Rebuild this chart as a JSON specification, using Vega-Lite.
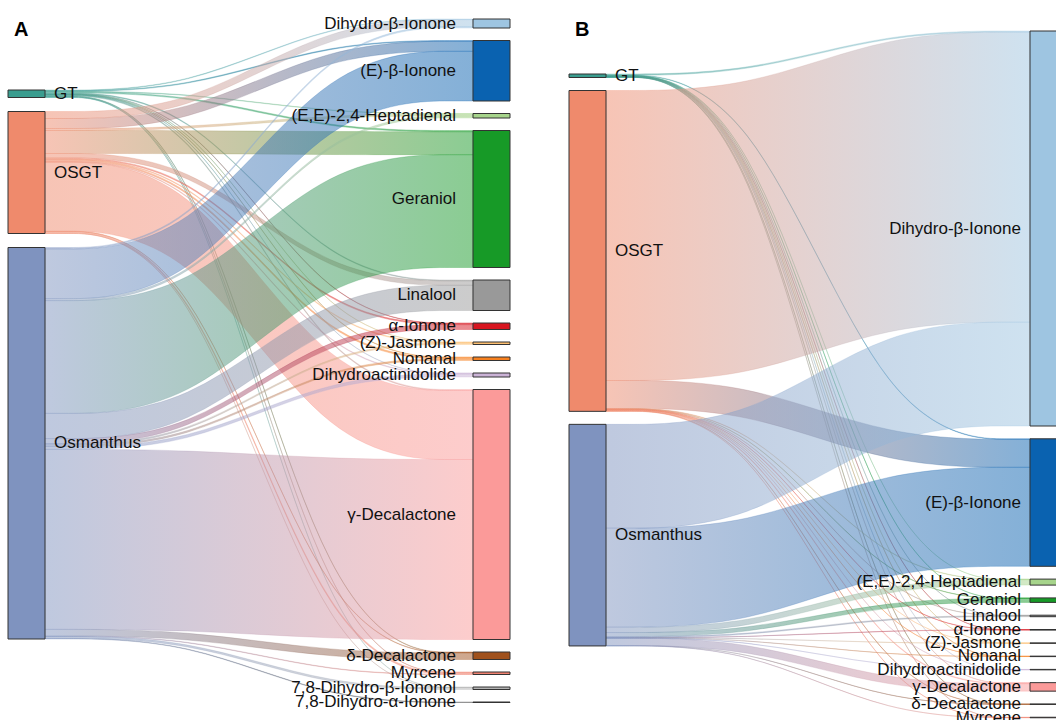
{
  "$schema": "https://vega.github.io/schema/vega-lite/v6.json",
  "padding": 0,
  "spacing": 20,
  "background": "white",
  "config": {"view": {"stroke": null}, "font": "Liberation Sans"},
  "datasets": {
    "rank": [
      {"name": "GT", "r": 1}, {"name": "OSGT", "r": 2}, {"name": "Osmanthus", "r": 3},
      {"name": "Dihydro-β-Ionone", "r": 1}, {"name": "(E)-β-Ionone", "r": 2}, {"name": "(E,E)-2,4-Heptadienal", "r": 3},
      {"name": "Geraniol", "r": 4}, {"name": "Linalool", "r": 5}, {"name": "α-Ionone", "r": 6}, {"name": "(Z)-Jasmone", "r": 7},
      {"name": "Nonanal", "r": 8}, {"name": "Dihydroactinidolide", "r": 9}, {"name": "γ-Decalactone", "r": 10},
      {"name": "δ-Decalactone", "r": 11}, {"name": "Myrcene", "r": 12}, {"name": "7,8-Dihydro-β-Iononol", "r": 13},
      {"name": "7,8-Dihydro-α-Ionone", "r": 14}
    ],
    "linksA": [
      {"s": "GT", "t": "Dihydro-β-Ionone", "v": 0.6}, {"s": "GT", "t": "(E)-β-Ionone", "v": 0.8}, {"s": "GT", "t": "(E,E)-2,4-Heptadienal", "v": 0.5},
      {"s": "GT", "t": "Geraniol", "v": 1.2}, {"s": "GT", "t": "Linalool", "v": 0.8}, {"s": "GT", "t": "α-Ionone", "v": 0.4},
      {"s": "GT", "t": "(Z)-Jasmone", "v": 0.3}, {"s": "GT", "t": "Nonanal", "v": 0.4}, {"s": "GT", "t": "Dihydroactinidolide", "v": 0.3},
      {"s": "GT", "t": "γ-Decalactone", "v": 1.0}, {"s": "GT", "t": "δ-Decalactone", "v": 0.4}, {"s": "GT", "t": "Myrcene", "v": 0.4},
      {"s": "GT", "t": "7,8-Dihydro-β-Iononol", "v": 0.4},
      {"s": "OSGT", "t": "Dihydro-β-Ionone", "v": 7}, {"s": "OSGT", "t": "(E)-β-Ionone", "v": 10}, {"s": "OSGT", "t": "(E,E)-2,4-Heptadienal", "v": 2},
      {"s": "OSGT", "t": "Geraniol", "v": 23}, {"s": "OSGT", "t": "Linalool", "v": 4.5}, {"s": "OSGT", "t": "α-Ionone", "v": 1.2},
      {"s": "OSGT", "t": "(Z)-Jasmone", "v": 0.8}, {"s": "OSGT", "t": "Nonanal", "v": 1.5}, {"s": "OSGT", "t": "Dihydroactinidolide", "v": 0.8},
      {"s": "OSGT", "t": "γ-Decalactone", "v": 69}, {"s": "OSGT", "t": "δ-Decalactone", "v": 0.4}, {"s": "OSGT", "t": "Myrcene", "v": 1.6},
      {"s": "OSGT", "t": "7,8-Dihydro-β-Iononol", "v": 0.2},
      {"s": "Osmanthus", "t": "Dihydro-β-Ionone", "v": 1.4}, {"s": "Osmanthus", "t": "(E)-β-Ionone", "v": 49.7}, {"s": "Osmanthus", "t": "(E,E)-2,4-Heptadienal", "v": 2.0},
      {"s": "Osmanthus", "t": "Geraniol", "v": 112.8}, {"s": "Osmanthus", "t": "Linalool", "v": 25.2}, {"s": "Osmanthus", "t": "α-Ionone", "v": 4.9},
      {"s": "Osmanthus", "t": "(Z)-Jasmone", "v": 1.4}, {"s": "Osmanthus", "t": "Nonanal", "v": 1.6}, {"s": "Osmanthus", "t": "Dihydroactinidolide", "v": 2.9},
      {"s": "Osmanthus", "t": "γ-Decalactone", "v": 180}, {"s": "Osmanthus", "t": "δ-Decalactone", "v": 6.7}, {"s": "Osmanthus", "t": "Myrcene", "v": 0.5},
      {"s": "Osmanthus", "t": "7,8-Dihydro-β-Iononol", "v": 1.9}, {"s": "Osmanthus", "t": "7,8-Dihydro-α-Ionone", "v": 0.5}
    ],
    "linksB": [
      {"s": "GT", "t": "Dihydro-β-Ionone", "v": 1.2}, {"s": "GT", "t": "(E)-β-Ionone", "v": 0.5}, {"s": "GT", "t": "(E,E)-2,4-Heptadienal", "v": 0.2},
      {"s": "GT", "t": "Geraniol", "v": 0.2}, {"s": "GT", "t": "Linalool", "v": 0.2}, {"s": "GT", "t": "α-Ionone", "v": 0.2},
      {"s": "GT", "t": "(Z)-Jasmone", "v": 0.15}, {"s": "GT", "t": "Nonanal", "v": 0.15}, {"s": "GT", "t": "Dihydroactinidolide", "v": 0.15},
      {"s": "GT", "t": "γ-Decalactone", "v": 0.25}, {"s": "GT", "t": "δ-Decalactone", "v": 0.15}, {"s": "GT", "t": "Myrcene", "v": 0.15},
      {"s": "OSGT", "t": "Dihydro-β-Ionone", "v": 290}, {"s": "OSGT", "t": "(E)-β-Ionone", "v": 28}, {"s": "OSGT", "t": "(E,E)-2,4-Heptadienal", "v": 0.4},
      {"s": "OSGT", "t": "Geraniol", "v": 0.3}, {"s": "OSGT", "t": "Linalool", "v": 0.3}, {"s": "OSGT", "t": "α-Ionone", "v": 0.2},
      {"s": "OSGT", "t": "(Z)-Jasmone", "v": 0.15}, {"s": "OSGT", "t": "Nonanal", "v": 0.15}, {"s": "OSGT", "t": "Dihydroactinidolide", "v": 0.15},
      {"s": "OSGT", "t": "γ-Decalactone", "v": 0.8}, {"s": "OSGT", "t": "δ-Decalactone", "v": 0.2}, {"s": "OSGT", "t": "Myrcene", "v": 0.2},
      {"s": "Osmanthus", "t": "Dihydro-β-Ionone", "v": 103.8}, {"s": "Osmanthus", "t": "(E)-β-Ionone", "v": 99}, {"s": "Osmanthus", "t": "(E,E)-2,4-Heptadienal", "v": 5.4},
      {"s": "Osmanthus", "t": "Geraniol", "v": 4.0}, {"s": "Osmanthus", "t": "Linalool", "v": 1.0}, {"s": "Osmanthus", "t": "α-Ionone", "v": 0.2},
      {"s": "Osmanthus", "t": "(Z)-Jasmone", "v": 0.15}, {"s": "Osmanthus", "t": "Nonanal", "v": 0.15}, {"s": "Osmanthus", "t": "Dihydroactinidolide", "v": 0.15},
      {"s": "Osmanthus", "t": "γ-Decalactone", "v": 7.45}, {"s": "Osmanthus", "t": "δ-Decalactone", "v": 0.15}, {"s": "Osmanthus", "t": "Myrcene", "v": 0.15}
    ]
  },
  "hconcat": [
    {
      "width": 520,
      "height": 720,
      "title": {"text": "A", "anchor": "start", "frame": "group", "orient": "top", "offset": -56, "baseline": "alphabetic", "dx": 14, "fontSize": 20, "fontWeight": "bold", "font": "Liberation Sans", "color": "#000000"},
      "data": {"name": "linksA"},
      "transform": [
        {"lookup": "s", "from": {"data": {"name": "rank"}, "key": "name", "fields": ["r"]}, "as": ["sr"]},
        {"lookup": "t", "from": {"data": {"name": "rank"}, "key": "name", "fields": ["r"]}, "as": ["tr"]},
        {"window": [{"op": "sum", "field": "v", "as": "sc"}], "sort": [{"field": "sr"}, {"field": "tr"}], "frame": [null, 0]},
        {"window": [{"op": "sum", "field": "v", "as": "tc"}], "sort": [{"field": "tr"}, {"field": "sr"}], "frame": [null, 0]},
        {"calculate": "90 + datum.sc + 14 * (datum.sr - 1)", "as": "sy1"},
        {"calculate": "datum.sy1 - datum.v", "as": "sy0"},
        {"calculate": "19 + datum.tc + 12.5 * (datum.tr - 1)", "as": "ty1"},
        {"calculate": "datum.ty1 - datum.v", "as": "ty0"}
      ],
      "layer": [
        {
          "transform": [
            {"calculate": "45", "as": "xa"}, {"calculate": "187.7", "as": "xb"},
            {"calculate": "330.3", "as": "xc"}, {"calculate": "473", "as": "xd"},
            {"fold": ["xa", "xb", "xc", "xd"], "as": ["k", "px"]},
            {"calculate": "datum.k == 'xa' || datum.k == 'xb' ? datum.sy0 : datum.ty0", "as": "yt"},
            {"calculate": "datum.k == 'xa' || datum.k == 'xb' ? datum.sy1 : datum.ty1", "as": "yb"},
            {"calculate": "datum.s + '>' + datum.t", "as": "id"}
          ],
          "mark": {"type": "area", "interpolate": "basis", "fillOpacity": 0.5, "strokeWidth": 0.8, "strokeOpacity": 0.35},
          "encoding": {
            "x": {"field": "px", "type": "quantitative", "scale": {"domain": [0, 520], "nice": false, "zero": false}, "axis": null},
            "y": {"field": "yt", "type": "quantitative", "scale": {"domain": [0, 720], "reverse": true, "nice": false, "zero": false}, "axis": null},
            "y2": {"field": "yb"},
            "detail": {"field": "id", "type": "nominal"},
            "fill": {
              "condition": [
                {"test": "datum.id=='GT>Dihydro-β-Ionone'", "value": {"gradient": "linear", "stops": [{"offset": 0, "color": "#3a9d8f"}, {"offset": 1, "color": "#9ec5e1"}]}},
                {"test": "datum.id=='GT>(E)-β-Ionone'", "value": {"gradient": "linear", "stops": [{"offset": 0, "color": "#3a9d8f"}, {"offset": 1, "color": "#0a62b0"}]}},
                {"test": "datum.id=='GT>(E,E)-2,4-Heptadienal'", "value": {"gradient": "linear", "stops": [{"offset": 0, "color": "#3a9d8f"}, {"offset": 1, "color": "#a6d48b"}]}},
                {"test": "datum.id=='GT>Geraniol'", "value": {"gradient": "linear", "stops": [{"offset": 0, "color": "#3a9d8f"}, {"offset": 1, "color": "#179a27"}]}},
                {"test": "datum.id=='GT>Linalool'", "value": {"gradient": "linear", "stops": [{"offset": 0, "color": "#3a9d8f"}, {"offset": 1, "color": "#999999"}]}},
                {"test": "datum.id=='GT>α-Ionone'", "value": {"gradient": "linear", "stops": [{"offset": 0, "color": "#3a9d8f"}, {"offset": 1, "color": "#d7151f"}]}},
                {"test": "datum.id=='GT>(Z)-Jasmone'", "value": {"gradient": "linear", "stops": [{"offset": 0, "color": "#3a9d8f"}, {"offset": 1, "color": "#fdbf6f"}]}},
                {"test": "datum.id=='GT>Nonanal'", "value": {"gradient": "linear", "stops": [{"offset": 0, "color": "#3a9d8f"}, {"offset": 1, "color": "#f7801e"}]}},
                {"test": "datum.id=='GT>Dihydroactinidolide'", "value": {"gradient": "linear", "stops": [{"offset": 0, "color": "#3a9d8f"}, {"offset": 1, "color": "#cab2d6"}]}},
                {"test": "datum.id=='GT>γ-Decalactone'", "value": {"gradient": "linear", "stops": [{"offset": 0, "color": "#3a9d8f"}, {"offset": 1, "color": "#fb9a99"}]}},
                {"test": "datum.id=='GT>δ-Decalactone'", "value": {"gradient": "linear", "stops": [{"offset": 0, "color": "#3a9d8f"}, {"offset": 1, "color": "#a0511c"}]}},
                {"test": "datum.id=='GT>Myrcene'", "value": {"gradient": "linear", "stops": [{"offset": 0, "color": "#3a9d8f"}, {"offset": 1, "color": "#f0816f"}]}},
                {"test": "datum.id=='GT>7,8-Dihydro-β-Iononol'", "value": {"gradient": "linear", "stops": [{"offset": 0, "color": "#3a9d8f"}, {"offset": 1, "color": "#b3b3b3"}]}},
                {"test": "datum.id=='OSGT>Dihydro-β-Ionone'", "value": {"gradient": "linear", "stops": [{"offset": 0, "color": "#ef8a6c"}, {"offset": 1, "color": "#9ec5e1"}]}},
                {"test": "datum.id=='OSGT>(E)-β-Ionone'", "value": {"gradient": "linear", "stops": [{"offset": 0, "color": "#ef8a6c"}, {"offset": 1, "color": "#0a62b0"}]}},
                {"test": "datum.id=='OSGT>(E,E)-2,4-Heptadienal'", "value": {"gradient": "linear", "stops": [{"offset": 0, "color": "#ef8a6c"}, {"offset": 1, "color": "#a6d48b"}]}},
                {"test": "datum.id=='OSGT>Geraniol'", "value": {"gradient": "linear", "stops": [{"offset": 0, "color": "#ef8a6c"}, {"offset": 1, "color": "#179a27"}]}},
                {"test": "datum.id=='OSGT>Linalool'", "value": {"gradient": "linear", "stops": [{"offset": 0, "color": "#ef8a6c"}, {"offset": 1, "color": "#999999"}]}},
                {"test": "datum.id=='OSGT>α-Ionone'", "value": {"gradient": "linear", "stops": [{"offset": 0, "color": "#ef8a6c"}, {"offset": 1, "color": "#d7151f"}]}},
                {"test": "datum.id=='OSGT>(Z)-Jasmone'", "value": {"gradient": "linear", "stops": [{"offset": 0, "color": "#ef8a6c"}, {"offset": 1, "color": "#fdbf6f"}]}},
                {"test": "datum.id=='OSGT>Nonanal'", "value": {"gradient": "linear", "stops": [{"offset": 0, "color": "#ef8a6c"}, {"offset": 1, "color": "#f7801e"}]}},
                {"test": "datum.id=='OSGT>Dihydroactinidolide'", "value": {"gradient": "linear", "stops": [{"offset": 0, "color": "#ef8a6c"}, {"offset": 1, "color": "#cab2d6"}]}},
                {"test": "datum.id=='OSGT>γ-Decalactone'", "value": {"gradient": "linear", "stops": [{"offset": 0, "color": "#ef8a6c"}, {"offset": 1, "color": "#fb9a99"}]}},
                {"test": "datum.id=='OSGT>δ-Decalactone'", "value": {"gradient": "linear", "stops": [{"offset": 0, "color": "#ef8a6c"}, {"offset": 1, "color": "#a0511c"}]}},
                {"test": "datum.id=='OSGT>Myrcene'", "value": {"gradient": "linear", "stops": [{"offset": 0, "color": "#ef8a6c"}, {"offset": 1, "color": "#f0816f"}]}},
                {"test": "datum.id=='OSGT>7,8-Dihydro-β-Iononol'", "value": {"gradient": "linear", "stops": [{"offset": 0, "color": "#ef8a6c"}, {"offset": 1, "color": "#b3b3b3"}]}},
                {"test": "datum.id=='Osmanthus>Dihydro-β-Ionone'", "value": {"gradient": "linear", "stops": [{"offset": 0, "color": "#7f93bf"}, {"offset": 1, "color": "#9ec5e1"}]}},
                {"test": "datum.id=='Osmanthus>(E)-β-Ionone'", "value": {"gradient": "linear", "stops": [{"offset": 0, "color": "#7f93bf"}, {"offset": 1, "color": "#0a62b0"}]}},
                {"test": "datum.id=='Osmanthus>(E,E)-2,4-Heptadienal'", "value": {"gradient": "linear", "stops": [{"offset": 0, "color": "#7f93bf"}, {"offset": 1, "color": "#a6d48b"}]}},
                {"test": "datum.id=='Osmanthus>Geraniol'", "value": {"gradient": "linear", "stops": [{"offset": 0, "color": "#7f93bf"}, {"offset": 1, "color": "#179a27"}]}},
                {"test": "datum.id=='Osmanthus>Linalool'", "value": {"gradient": "linear", "stops": [{"offset": 0, "color": "#7f93bf"}, {"offset": 1, "color": "#999999"}]}},
                {"test": "datum.id=='Osmanthus>α-Ionone'", "value": {"gradient": "linear", "stops": [{"offset": 0, "color": "#7f93bf"}, {"offset": 1, "color": "#d7151f"}]}},
                {"test": "datum.id=='Osmanthus>(Z)-Jasmone'", "value": {"gradient": "linear", "stops": [{"offset": 0, "color": "#7f93bf"}, {"offset": 1, "color": "#fdbf6f"}]}},
                {"test": "datum.id=='Osmanthus>Nonanal'", "value": {"gradient": "linear", "stops": [{"offset": 0, "color": "#7f93bf"}, {"offset": 1, "color": "#f7801e"}]}},
                {"test": "datum.id=='Osmanthus>Dihydroactinidolide'", "value": {"gradient": "linear", "stops": [{"offset": 0, "color": "#7f93bf"}, {"offset": 1, "color": "#cab2d6"}]}},
                {"test": "datum.id=='Osmanthus>γ-Decalactone'", "value": {"gradient": "linear", "stops": [{"offset": 0, "color": "#7f93bf"}, {"offset": 1, "color": "#fb9a99"}]}},
                {"test": "datum.id=='Osmanthus>δ-Decalactone'", "value": {"gradient": "linear", "stops": [{"offset": 0, "color": "#7f93bf"}, {"offset": 1, "color": "#a0511c"}]}},
                {"test": "datum.id=='Osmanthus>Myrcene'", "value": {"gradient": "linear", "stops": [{"offset": 0, "color": "#7f93bf"}, {"offset": 1, "color": "#f0816f"}]}},
                {"test": "datum.id=='Osmanthus>7,8-Dihydro-β-Iononol'", "value": {"gradient": "linear", "stops": [{"offset": 0, "color": "#7f93bf"}, {"offset": 1, "color": "#b3b3b3"}]}}
              ],
              "value": {"gradient": "linear", "stops": [{"offset": 0, "color": "#7f93bf"}, {"offset": 1, "color": "#333333"}]}
            },
            "stroke": {
              "condition": [
                {"test": "datum.id=='GT>Dihydro-β-Ionone'", "value": {"gradient": "linear", "stops": [{"offset": 0, "color": "#3a9d8f"}, {"offset": 1, "color": "#9ec5e1"}]}},
                {"test": "datum.id=='GT>(E)-β-Ionone'", "value": {"gradient": "linear", "stops": [{"offset": 0, "color": "#3a9d8f"}, {"offset": 1, "color": "#0a62b0"}]}},
                {"test": "datum.id=='GT>(E,E)-2,4-Heptadienal'", "value": {"gradient": "linear", "stops": [{"offset": 0, "color": "#3a9d8f"}, {"offset": 1, "color": "#a6d48b"}]}},
                {"test": "datum.id=='GT>Geraniol'", "value": {"gradient": "linear", "stops": [{"offset": 0, "color": "#3a9d8f"}, {"offset": 1, "color": "#179a27"}]}},
                {"test": "datum.id=='GT>Linalool'", "value": {"gradient": "linear", "stops": [{"offset": 0, "color": "#3a9d8f"}, {"offset": 1, "color": "#999999"}]}},
                {"test": "datum.id=='GT>α-Ionone'", "value": {"gradient": "linear", "stops": [{"offset": 0, "color": "#3a9d8f"}, {"offset": 1, "color": "#d7151f"}]}},
                {"test": "datum.id=='GT>(Z)-Jasmone'", "value": {"gradient": "linear", "stops": [{"offset": 0, "color": "#3a9d8f"}, {"offset": 1, "color": "#fdbf6f"}]}},
                {"test": "datum.id=='GT>Nonanal'", "value": {"gradient": "linear", "stops": [{"offset": 0, "color": "#3a9d8f"}, {"offset": 1, "color": "#f7801e"}]}},
                {"test": "datum.id=='GT>Dihydroactinidolide'", "value": {"gradient": "linear", "stops": [{"offset": 0, "color": "#3a9d8f"}, {"offset": 1, "color": "#cab2d6"}]}},
                {"test": "datum.id=='GT>γ-Decalactone'", "value": {"gradient": "linear", "stops": [{"offset": 0, "color": "#3a9d8f"}, {"offset": 1, "color": "#fb9a99"}]}},
                {"test": "datum.id=='GT>δ-Decalactone'", "value": {"gradient": "linear", "stops": [{"offset": 0, "color": "#3a9d8f"}, {"offset": 1, "color": "#a0511c"}]}},
                {"test": "datum.id=='GT>Myrcene'", "value": {"gradient": "linear", "stops": [{"offset": 0, "color": "#3a9d8f"}, {"offset": 1, "color": "#f0816f"}]}},
                {"test": "datum.id=='GT>7,8-Dihydro-β-Iononol'", "value": {"gradient": "linear", "stops": [{"offset": 0, "color": "#3a9d8f"}, {"offset": 1, "color": "#b3b3b3"}]}},
                {"test": "datum.id=='OSGT>Dihydro-β-Ionone'", "value": {"gradient": "linear", "stops": [{"offset": 0, "color": "#ef8a6c"}, {"offset": 1, "color": "#9ec5e1"}]}},
                {"test": "datum.id=='OSGT>(E)-β-Ionone'", "value": {"gradient": "linear", "stops": [{"offset": 0, "color": "#ef8a6c"}, {"offset": 1, "color": "#0a62b0"}]}},
                {"test": "datum.id=='OSGT>(E,E)-2,4-Heptadienal'", "value": {"gradient": "linear", "stops": [{"offset": 0, "color": "#ef8a6c"}, {"offset": 1, "color": "#a6d48b"}]}},
                {"test": "datum.id=='OSGT>Geraniol'", "value": {"gradient": "linear", "stops": [{"offset": 0, "color": "#ef8a6c"}, {"offset": 1, "color": "#179a27"}]}},
                {"test": "datum.id=='OSGT>Linalool'", "value": {"gradient": "linear", "stops": [{"offset": 0, "color": "#ef8a6c"}, {"offset": 1, "color": "#999999"}]}},
                {"test": "datum.id=='OSGT>α-Ionone'", "value": {"gradient": "linear", "stops": [{"offset": 0, "color": "#ef8a6c"}, {"offset": 1, "color": "#d7151f"}]}},
                {"test": "datum.id=='OSGT>(Z)-Jasmone'", "value": {"gradient": "linear", "stops": [{"offset": 0, "color": "#ef8a6c"}, {"offset": 1, "color": "#fdbf6f"}]}},
                {"test": "datum.id=='OSGT>Nonanal'", "value": {"gradient": "linear", "stops": [{"offset": 0, "color": "#ef8a6c"}, {"offset": 1, "color": "#f7801e"}]}},
                {"test": "datum.id=='OSGT>Dihydroactinidolide'", "value": {"gradient": "linear", "stops": [{"offset": 0, "color": "#ef8a6c"}, {"offset": 1, "color": "#cab2d6"}]}},
                {"test": "datum.id=='OSGT>γ-Decalactone'", "value": {"gradient": "linear", "stops": [{"offset": 0, "color": "#ef8a6c"}, {"offset": 1, "color": "#fb9a99"}]}},
                {"test": "datum.id=='OSGT>δ-Decalactone'", "value": {"gradient": "linear", "stops": [{"offset": 0, "color": "#ef8a6c"}, {"offset": 1, "color": "#a0511c"}]}},
                {"test": "datum.id=='OSGT>Myrcene'", "value": {"gradient": "linear", "stops": [{"offset": 0, "color": "#ef8a6c"}, {"offset": 1, "color": "#f0816f"}]}},
                {"test": "datum.id=='OSGT>7,8-Dihydro-β-Iononol'", "value": {"gradient": "linear", "stops": [{"offset": 0, "color": "#ef8a6c"}, {"offset": 1, "color": "#b3b3b3"}]}},
                {"test": "datum.id=='Osmanthus>Dihydro-β-Ionone'", "value": {"gradient": "linear", "stops": [{"offset": 0, "color": "#7f93bf"}, {"offset": 1, "color": "#9ec5e1"}]}},
                {"test": "datum.id=='Osmanthus>(E)-β-Ionone'", "value": {"gradient": "linear", "stops": [{"offset": 0, "color": "#7f93bf"}, {"offset": 1, "color": "#0a62b0"}]}},
                {"test": "datum.id=='Osmanthus>(E,E)-2,4-Heptadienal'", "value": {"gradient": "linear", "stops": [{"offset": 0, "color": "#7f93bf"}, {"offset": 1, "color": "#a6d48b"}]}},
                {"test": "datum.id=='Osmanthus>Geraniol'", "value": {"gradient": "linear", "stops": [{"offset": 0, "color": "#7f93bf"}, {"offset": 1, "color": "#179a27"}]}},
                {"test": "datum.id=='Osmanthus>Linalool'", "value": {"gradient": "linear", "stops": [{"offset": 0, "color": "#7f93bf"}, {"offset": 1, "color": "#999999"}]}},
                {"test": "datum.id=='Osmanthus>α-Ionone'", "value": {"gradient": "linear", "stops": [{"offset": 0, "color": "#7f93bf"}, {"offset": 1, "color": "#d7151f"}]}},
                {"test": "datum.id=='Osmanthus>(Z)-Jasmone'", "value": {"gradient": "linear", "stops": [{"offset": 0, "color": "#7f93bf"}, {"offset": 1, "color": "#fdbf6f"}]}},
                {"test": "datum.id=='Osmanthus>Nonanal'", "value": {"gradient": "linear", "stops": [{"offset": 0, "color": "#7f93bf"}, {"offset": 1, "color": "#f7801e"}]}},
                {"test": "datum.id=='Osmanthus>Dihydroactinidolide'", "value": {"gradient": "linear", "stops": [{"offset": 0, "color": "#7f93bf"}, {"offset": 1, "color": "#cab2d6"}]}},
                {"test": "datum.id=='Osmanthus>γ-Decalactone'", "value": {"gradient": "linear", "stops": [{"offset": 0, "color": "#7f93bf"}, {"offset": 1, "color": "#fb9a99"}]}},
                {"test": "datum.id=='Osmanthus>δ-Decalactone'", "value": {"gradient": "linear", "stops": [{"offset": 0, "color": "#7f93bf"}, {"offset": 1, "color": "#a0511c"}]}},
                {"test": "datum.id=='Osmanthus>Myrcene'", "value": {"gradient": "linear", "stops": [{"offset": 0, "color": "#7f93bf"}, {"offset": 1, "color": "#f0816f"}]}},
                {"test": "datum.id=='Osmanthus>7,8-Dihydro-β-Iononol'", "value": {"gradient": "linear", "stops": [{"offset": 0, "color": "#7f93bf"}, {"offset": 1, "color": "#b3b3b3"}]}}
              ],
              "value": {"gradient": "linear", "stops": [{"offset": 0, "color": "#7f93bf"}, {"offset": 1, "color": "#333333"}]}
            }
          }
        },
        {
          "transform": [
            {"aggregate": [{"op": "min", "field": "sy0", "as": "y0"}, {"op": "max", "field": "sy1", "as": "y1"}], "groupby": ["s"]}
          ],
          "mark": {"type": "rect", "stroke": "#333333", "strokeWidth": 1, "clip": true},
          "encoding": {
            "x": {"datum": 8, "type": "quantitative"},
            "x2": {"datum": 45},
            "y": {"field": "y0", "type": "quantitative"},
            "y2": {"field": "y1"},
            "fill": {"field": "s", "type": "nominal", "legend": null,
              "scale": {"domain": ["GT", "OSGT", "Osmanthus", "Dihydro-β-Ionone", "(E)-β-Ionone", "(E,E)-2,4-Heptadienal", "Geraniol", "Linalool", "α-Ionone", "(Z)-Jasmone", "Nonanal", "Dihydroactinidolide", "γ-Decalactone", "δ-Decalactone", "Myrcene", "7,8-Dihydro-β-Iononol", "7,8-Dihydro-α-Ionone"],
                "range": ["#3a9d8f", "#ef8a6c", "#7f93bf", "#9ec5e1", "#0a62b0", "#a6d48b", "#179a27", "#999999", "#d7151f", "#fdbf6f", "#f7801e", "#cab2d6", "#fb9a99", "#a0511c", "#f0816f", "#b3b3b3", "#333333"]}}
          }
        },
        {
          "transform": [
            {"aggregate": [{"op": "min", "field": "ty0", "as": "y0"}, {"op": "max", "field": "ty1", "as": "y1"}], "groupby": ["t"]}
          ],
          "mark": {"type": "rect", "stroke": "#333333", "strokeWidth": 1, "clip": true},
          "encoding": {
            "x": {"datum": 473, "type": "quantitative"},
            "x2": {"datum": 510},
            "y": {"field": "y0", "type": "quantitative"},
            "y2": {"field": "y1"},
            "fill": {"field": "t", "type": "nominal", "legend": null}
          }
        },
        {
          "transform": [
            {"aggregate": [{"op": "min", "field": "sy0", "as": "y0"}, {"op": "max", "field": "sy1", "as": "y1"}], "groupby": ["s"]},
            {"calculate": "(datum.y0 + datum.y1) / 2", "as": "ym"}
          ],
          "mark": {"type": "text", "align": "left", "baseline": "middle", "fontSize": 17, "font": "Liberation Sans", "color": "#111111", "clip": true},
          "encoding": {
            "x": {"datum": 54, "type": "quantitative"},
            "y": {"field": "ym", "type": "quantitative"},
            "text": {"field": "s"}
          }
        },
        {
          "transform": [
            {"aggregate": [{"op": "min", "field": "ty0", "as": "y0"}, {"op": "max", "field": "ty1", "as": "y1"}], "groupby": ["t"]},
            {"calculate": "(datum.y0 + datum.y1) / 2", "as": "ym"}
          ],
          "mark": {"type": "text", "align": "right", "baseline": "middle", "fontSize": 17, "font": "Liberation Sans", "color": "#111111", "clip": true},
          "encoding": {
            "x": {"datum": 456, "type": "quantitative"},
            "y": {"field": "ym", "type": "quantitative"},
            "text": {"field": "t"}
          }
        }
      ]
    },
    {
      "width": 516,
      "height": 720,
      "title": {"text": "B", "anchor": "start", "frame": "group", "orient": "top", "offset": -56, "baseline": "alphabetic", "dx": 35, "fontSize": 20, "fontWeight": "bold", "font": "Liberation Sans", "color": "#000000"},
      "data": {"name": "linksB"},
      "transform": [
        {"lookup": "s", "from": {"data": {"name": "rank"}, "key": "name", "fields": ["r"]}, "as": ["sr"]},
        {"lookup": "t", "from": {"data": {"name": "rank"}, "key": "name", "fields": ["r"]}, "as": ["tr"]},
        {"window": [{"op": "sum", "field": "v", "as": "sc"}], "sort": [{"field": "sr"}, {"field": "tr"}], "frame": [null, 0]},
        {"window": [{"op": "sum", "field": "v", "as": "tc"}], "sort": [{"field": "tr"}, {"field": "sr"}], "frame": [null, 0]},
        {"calculate": "74 + datum.sc + 13 * (datum.sr - 1)", "as": "sy1"},
        {"calculate": "datum.sy1 - datum.v", "as": "sy0"},
        {"calculate": "31 + datum.tc + 12.8 * (datum.tr - 1)", "as": "ty1"},
        {"calculate": "datum.ty1 - datum.v", "as": "ty0"}
      ],
      "layer": [
        {
          "transform": [
            {"calculate": "606", "as": "xa"}, {"calculate": "747.3", "as": "xb"},
            {"calculate": "888.7", "as": "xc"}, {"calculate": "1030", "as": "xd"},
            {"fold": ["xa", "xb", "xc", "xd"], "as": ["k", "px"]},
            {"calculate": "datum.k == 'xa' || datum.k == 'xb' ? datum.sy0 : datum.ty0", "as": "yt"},
            {"calculate": "datum.k == 'xa' || datum.k == 'xb' ? datum.sy1 : datum.ty1", "as": "yb"},
            {"calculate": "datum.s + '>' + datum.t", "as": "id"}
          ],
          "mark": {"type": "area", "interpolate": "basis", "fillOpacity": 0.5, "strokeWidth": 0.8, "strokeOpacity": 0.35},
          "encoding": {
            "x": {"field": "px", "type": "quantitative", "scale": {"domain": [540, 1056], "nice": false, "zero": false}, "axis": null},
            "y": {"field": "yt", "type": "quantitative", "scale": {"domain": [0, 720], "reverse": true, "nice": false, "zero": false}, "axis": null},
            "y2": {"field": "yb"},
            "detail": {"field": "id", "type": "nominal"},
            "fill": {
              "condition": [
                {"test": "datum.id=='GT>Dihydro-β-Ionone'", "value": {"gradient": "linear", "stops": [{"offset": 0, "color": "#3a9d8f"}, {"offset": 1, "color": "#9ec5e1"}]}},
                {"test": "datum.id=='GT>(E)-β-Ionone'", "value": {"gradient": "linear", "stops": [{"offset": 0, "color": "#3a9d8f"}, {"offset": 1, "color": "#0a62b0"}]}},
                {"test": "datum.id=='GT>(E,E)-2,4-Heptadienal'", "value": {"gradient": "linear", "stops": [{"offset": 0, "color": "#3a9d8f"}, {"offset": 1, "color": "#a6d48b"}]}},
                {"test": "datum.id=='GT>Geraniol'", "value": {"gradient": "linear", "stops": [{"offset": 0, "color": "#3a9d8f"}, {"offset": 1, "color": "#179a27"}]}},
                {"test": "datum.id=='GT>Linalool'", "value": {"gradient": "linear", "stops": [{"offset": 0, "color": "#3a9d8f"}, {"offset": 1, "color": "#999999"}]}},
                {"test": "datum.id=='GT>α-Ionone'", "value": {"gradient": "linear", "stops": [{"offset": 0, "color": "#3a9d8f"}, {"offset": 1, "color": "#d7151f"}]}},
                {"test": "datum.id=='GT>(Z)-Jasmone'", "value": {"gradient": "linear", "stops": [{"offset": 0, "color": "#3a9d8f"}, {"offset": 1, "color": "#fdbf6f"}]}},
                {"test": "datum.id=='GT>Nonanal'", "value": {"gradient": "linear", "stops": [{"offset": 0, "color": "#3a9d8f"}, {"offset": 1, "color": "#f7801e"}]}},
                {"test": "datum.id=='GT>Dihydroactinidolide'", "value": {"gradient": "linear", "stops": [{"offset": 0, "color": "#3a9d8f"}, {"offset": 1, "color": "#cab2d6"}]}},
                {"test": "datum.id=='GT>γ-Decalactone'", "value": {"gradient": "linear", "stops": [{"offset": 0, "color": "#3a9d8f"}, {"offset": 1, "color": "#fb9a99"}]}},
                {"test": "datum.id=='GT>δ-Decalactone'", "value": {"gradient": "linear", "stops": [{"offset": 0, "color": "#3a9d8f"}, {"offset": 1, "color": "#a0511c"}]}},
                {"test": "datum.id=='GT>Myrcene'", "value": {"gradient": "linear", "stops": [{"offset": 0, "color": "#3a9d8f"}, {"offset": 1, "color": "#f0816f"}]}},
                {"test": "datum.id=='OSGT>Dihydro-β-Ionone'", "value": {"gradient": "linear", "stops": [{"offset": 0, "color": "#ef8a6c"}, {"offset": 1, "color": "#9ec5e1"}]}},
                {"test": "datum.id=='OSGT>(E)-β-Ionone'", "value": {"gradient": "linear", "stops": [{"offset": 0, "color": "#ef8a6c"}, {"offset": 1, "color": "#0a62b0"}]}},
                {"test": "datum.id=='OSGT>(E,E)-2,4-Heptadienal'", "value": {"gradient": "linear", "stops": [{"offset": 0, "color": "#ef8a6c"}, {"offset": 1, "color": "#a6d48b"}]}},
                {"test": "datum.id=='OSGT>Geraniol'", "value": {"gradient": "linear", "stops": [{"offset": 0, "color": "#ef8a6c"}, {"offset": 1, "color": "#179a27"}]}},
                {"test": "datum.id=='OSGT>Linalool'", "value": {"gradient": "linear", "stops": [{"offset": 0, "color": "#ef8a6c"}, {"offset": 1, "color": "#999999"}]}},
                {"test": "datum.id=='OSGT>α-Ionone'", "value": {"gradient": "linear", "stops": [{"offset": 0, "color": "#ef8a6c"}, {"offset": 1, "color": "#d7151f"}]}},
                {"test": "datum.id=='OSGT>(Z)-Jasmone'", "value": {"gradient": "linear", "stops": [{"offset": 0, "color": "#ef8a6c"}, {"offset": 1, "color": "#fdbf6f"}]}},
                {"test": "datum.id=='OSGT>Nonanal'", "value": {"gradient": "linear", "stops": [{"offset": 0, "color": "#ef8a6c"}, {"offset": 1, "color": "#f7801e"}]}},
                {"test": "datum.id=='OSGT>Dihydroactinidolide'", "value": {"gradient": "linear", "stops": [{"offset": 0, "color": "#ef8a6c"}, {"offset": 1, "color": "#cab2d6"}]}},
                {"test": "datum.id=='OSGT>γ-Decalactone'", "value": {"gradient": "linear", "stops": [{"offset": 0, "color": "#ef8a6c"}, {"offset": 1, "color": "#fb9a99"}]}},
                {"test": "datum.id=='OSGT>δ-Decalactone'", "value": {"gradient": "linear", "stops": [{"offset": 0, "color": "#ef8a6c"}, {"offset": 1, "color": "#a0511c"}]}},
                {"test": "datum.id=='OSGT>Myrcene'", "value": {"gradient": "linear", "stops": [{"offset": 0, "color": "#ef8a6c"}, {"offset": 1, "color": "#f0816f"}]}},
                {"test": "datum.id=='Osmanthus>Dihydro-β-Ionone'", "value": {"gradient": "linear", "stops": [{"offset": 0, "color": "#7f93bf"}, {"offset": 1, "color": "#9ec5e1"}]}},
                {"test": "datum.id=='Osmanthus>(E)-β-Ionone'", "value": {"gradient": "linear", "stops": [{"offset": 0, "color": "#7f93bf"}, {"offset": 1, "color": "#0a62b0"}]}},
                {"test": "datum.id=='Osmanthus>(E,E)-2,4-Heptadienal'", "value": {"gradient": "linear", "stops": [{"offset": 0, "color": "#7f93bf"}, {"offset": 1, "color": "#a6d48b"}]}},
                {"test": "datum.id=='Osmanthus>Geraniol'", "value": {"gradient": "linear", "stops": [{"offset": 0, "color": "#7f93bf"}, {"offset": 1, "color": "#179a27"}]}},
                {"test": "datum.id=='Osmanthus>Linalool'", "value": {"gradient": "linear", "stops": [{"offset": 0, "color": "#7f93bf"}, {"offset": 1, "color": "#999999"}]}},
                {"test": "datum.id=='Osmanthus>α-Ionone'", "value": {"gradient": "linear", "stops": [{"offset": 0, "color": "#7f93bf"}, {"offset": 1, "color": "#d7151f"}]}},
                {"test": "datum.id=='Osmanthus>(Z)-Jasmone'", "value": {"gradient": "linear", "stops": [{"offset": 0, "color": "#7f93bf"}, {"offset": 1, "color": "#fdbf6f"}]}},
                {"test": "datum.id=='Osmanthus>Nonanal'", "value": {"gradient": "linear", "stops": [{"offset": 0, "color": "#7f93bf"}, {"offset": 1, "color": "#f7801e"}]}},
                {"test": "datum.id=='Osmanthus>Dihydroactinidolide'", "value": {"gradient": "linear", "stops": [{"offset": 0, "color": "#7f93bf"}, {"offset": 1, "color": "#cab2d6"}]}},
                {"test": "datum.id=='Osmanthus>γ-Decalactone'", "value": {"gradient": "linear", "stops": [{"offset": 0, "color": "#7f93bf"}, {"offset": 1, "color": "#fb9a99"}]}},
                {"test": "datum.id=='Osmanthus>δ-Decalactone'", "value": {"gradient": "linear", "stops": [{"offset": 0, "color": "#7f93bf"}, {"offset": 1, "color": "#a0511c"}]}}
              ],
              "value": {"gradient": "linear", "stops": [{"offset": 0, "color": "#7f93bf"}, {"offset": 1, "color": "#f0816f"}]}
            },
            "stroke": {
              "condition": [
                {"test": "datum.id=='GT>Dihydro-β-Ionone'", "value": {"gradient": "linear", "stops": [{"offset": 0, "color": "#3a9d8f"}, {"offset": 1, "color": "#9ec5e1"}]}},
                {"test": "datum.id=='GT>(E)-β-Ionone'", "value": {"gradient": "linear", "stops": [{"offset": 0, "color": "#3a9d8f"}, {"offset": 1, "color": "#0a62b0"}]}},
                {"test": "datum.id=='GT>(E,E)-2,4-Heptadienal'", "value": {"gradient": "linear", "stops": [{"offset": 0, "color": "#3a9d8f"}, {"offset": 1, "color": "#a6d48b"}]}},
                {"test": "datum.id=='GT>Geraniol'", "value": {"gradient": "linear", "stops": [{"offset": 0, "color": "#3a9d8f"}, {"offset": 1, "color": "#179a27"}]}},
                {"test": "datum.id=='GT>Linalool'", "value": {"gradient": "linear", "stops": [{"offset": 0, "color": "#3a9d8f"}, {"offset": 1, "color": "#999999"}]}},
                {"test": "datum.id=='GT>α-Ionone'", "value": {"gradient": "linear", "stops": [{"offset": 0, "color": "#3a9d8f"}, {"offset": 1, "color": "#d7151f"}]}},
                {"test": "datum.id=='GT>(Z)-Jasmone'", "value": {"gradient": "linear", "stops": [{"offset": 0, "color": "#3a9d8f"}, {"offset": 1, "color": "#fdbf6f"}]}},
                {"test": "datum.id=='GT>Nonanal'", "value": {"gradient": "linear", "stops": [{"offset": 0, "color": "#3a9d8f"}, {"offset": 1, "color": "#f7801e"}]}},
                {"test": "datum.id=='GT>Dihydroactinidolide'", "value": {"gradient": "linear", "stops": [{"offset": 0, "color": "#3a9d8f"}, {"offset": 1, "color": "#cab2d6"}]}},
                {"test": "datum.id=='GT>γ-Decalactone'", "value": {"gradient": "linear", "stops": [{"offset": 0, "color": "#3a9d8f"}, {"offset": 1, "color": "#fb9a99"}]}},
                {"test": "datum.id=='GT>δ-Decalactone'", "value": {"gradient": "linear", "stops": [{"offset": 0, "color": "#3a9d8f"}, {"offset": 1, "color": "#a0511c"}]}},
                {"test": "datum.id=='GT>Myrcene'", "value": {"gradient": "linear", "stops": [{"offset": 0, "color": "#3a9d8f"}, {"offset": 1, "color": "#f0816f"}]}},
                {"test": "datum.id=='OSGT>Dihydro-β-Ionone'", "value": {"gradient": "linear", "stops": [{"offset": 0, "color": "#ef8a6c"}, {"offset": 1, "color": "#9ec5e1"}]}},
                {"test": "datum.id=='OSGT>(E)-β-Ionone'", "value": {"gradient": "linear", "stops": [{"offset": 0, "color": "#ef8a6c"}, {"offset": 1, "color": "#0a62b0"}]}},
                {"test": "datum.id=='OSGT>(E,E)-2,4-Heptadienal'", "value": {"gradient": "linear", "stops": [{"offset": 0, "color": "#ef8a6c"}, {"offset": 1, "color": "#a6d48b"}]}},
                {"test": "datum.id=='OSGT>Geraniol'", "value": {"gradient": "linear", "stops": [{"offset": 0, "color": "#ef8a6c"}, {"offset": 1, "color": "#179a27"}]}},
                {"test": "datum.id=='OSGT>Linalool'", "value": {"gradient": "linear", "stops": [{"offset": 0, "color": "#ef8a6c"}, {"offset": 1, "color": "#999999"}]}},
                {"test": "datum.id=='OSGT>α-Ionone'", "value": {"gradient": "linear", "stops": [{"offset": 0, "color": "#ef8a6c"}, {"offset": 1, "color": "#d7151f"}]}},
                {"test": "datum.id=='OSGT>(Z)-Jasmone'", "value": {"gradient": "linear", "stops": [{"offset": 0, "color": "#ef8a6c"}, {"offset": 1, "color": "#fdbf6f"}]}},
                {"test": "datum.id=='OSGT>Nonanal'", "value": {"gradient": "linear", "stops": [{"offset": 0, "color": "#ef8a6c"}, {"offset": 1, "color": "#f7801e"}]}},
                {"test": "datum.id=='OSGT>Dihydroactinidolide'", "value": {"gradient": "linear", "stops": [{"offset": 0, "color": "#ef8a6c"}, {"offset": 1, "color": "#cab2d6"}]}},
                {"test": "datum.id=='OSGT>γ-Decalactone'", "value": {"gradient": "linear", "stops": [{"offset": 0, "color": "#ef8a6c"}, {"offset": 1, "color": "#fb9a99"}]}},
                {"test": "datum.id=='OSGT>δ-Decalactone'", "value": {"gradient": "linear", "stops": [{"offset": 0, "color": "#ef8a6c"}, {"offset": 1, "color": "#a0511c"}]}},
                {"test": "datum.id=='OSGT>Myrcene'", "value": {"gradient": "linear", "stops": [{"offset": 0, "color": "#ef8a6c"}, {"offset": 1, "color": "#f0816f"}]}},
                {"test": "datum.id=='Osmanthus>Dihydro-β-Ionone'", "value": {"gradient": "linear", "stops": [{"offset": 0, "color": "#7f93bf"}, {"offset": 1, "color": "#9ec5e1"}]}},
                {"test": "datum.id=='Osmanthus>(E)-β-Ionone'", "value": {"gradient": "linear", "stops": [{"offset": 0, "color": "#7f93bf"}, {"offset": 1, "color": "#0a62b0"}]}},
                {"test": "datum.id=='Osmanthus>(E,E)-2,4-Heptadienal'", "value": {"gradient": "linear", "stops": [{"offset": 0, "color": "#7f93bf"}, {"offset": 1, "color": "#a6d48b"}]}},
                {"test": "datum.id=='Osmanthus>Geraniol'", "value": {"gradient": "linear", "stops": [{"offset": 0, "color": "#7f93bf"}, {"offset": 1, "color": "#179a27"}]}},
                {"test": "datum.id=='Osmanthus>Linalool'", "value": {"gradient": "linear", "stops": [{"offset": 0, "color": "#7f93bf"}, {"offset": 1, "color": "#999999"}]}},
                {"test": "datum.id=='Osmanthus>α-Ionone'", "value": {"gradient": "linear", "stops": [{"offset": 0, "color": "#7f93bf"}, {"offset": 1, "color": "#d7151f"}]}},
                {"test": "datum.id=='Osmanthus>(Z)-Jasmone'", "value": {"gradient": "linear", "stops": [{"offset": 0, "color": "#7f93bf"}, {"offset": 1, "color": "#fdbf6f"}]}},
                {"test": "datum.id=='Osmanthus>Nonanal'", "value": {"gradient": "linear", "stops": [{"offset": 0, "color": "#7f93bf"}, {"offset": 1, "color": "#f7801e"}]}},
                {"test": "datum.id=='Osmanthus>Dihydroactinidolide'", "value": {"gradient": "linear", "stops": [{"offset": 0, "color": "#7f93bf"}, {"offset": 1, "color": "#cab2d6"}]}},
                {"test": "datum.id=='Osmanthus>γ-Decalactone'", "value": {"gradient": "linear", "stops": [{"offset": 0, "color": "#7f93bf"}, {"offset": 1, "color": "#fb9a99"}]}},
                {"test": "datum.id=='Osmanthus>δ-Decalactone'", "value": {"gradient": "linear", "stops": [{"offset": 0, "color": "#7f93bf"}, {"offset": 1, "color": "#a0511c"}]}}
              ],
              "value": {"gradient": "linear", "stops": [{"offset": 0, "color": "#7f93bf"}, {"offset": 1, "color": "#f0816f"}]}
            }
          }
        },
        {
          "transform": [
            {"aggregate": [{"op": "min", "field": "sy0", "as": "y0"}, {"op": "max", "field": "sy1", "as": "y1"}], "groupby": ["s"]}
          ],
          "mark": {"type": "rect", "stroke": "#333333", "strokeWidth": 1, "clip": true},
          "encoding": {
            "x": {"datum": 569, "type": "quantitative"},
            "x2": {"datum": 606},
            "y": {"field": "y0", "type": "quantitative"},
            "y2": {"field": "y1"},
            "fill": {"field": "s", "type": "nominal", "legend": null,
              "scale": {"domain": ["GT", "OSGT", "Osmanthus", "Dihydro-β-Ionone", "(E)-β-Ionone", "(E,E)-2,4-Heptadienal", "Geraniol", "Linalool", "α-Ionone", "(Z)-Jasmone", "Nonanal", "Dihydroactinidolide", "γ-Decalactone", "δ-Decalactone", "Myrcene", "7,8-Dihydro-β-Iononol", "7,8-Dihydro-α-Ionone"],
                "range": ["#3a9d8f", "#ef8a6c", "#7f93bf", "#9ec5e1", "#0a62b0", "#a6d48b", "#179a27", "#999999", "#d7151f", "#fdbf6f", "#f7801e", "#cab2d6", "#fb9a99", "#a0511c", "#f0816f", "#b3b3b3", "#333333"]}}
          }
        },
        {
          "transform": [
            {"aggregate": [{"op": "min", "field": "ty0", "as": "y0"}, {"op": "max", "field": "ty1", "as": "y1"}], "groupby": ["t"]}
          ],
          "mark": {"type": "rect", "stroke": "#333333", "strokeWidth": 1, "clip": true},
          "encoding": {
            "x": {"datum": 1030, "type": "quantitative"},
            "x2": {"datum": 1067},
            "y": {"field": "y0", "type": "quantitative"},
            "y2": {"field": "y1"},
            "fill": {"field": "t", "type": "nominal", "legend": null}
          }
        },
        {
          "transform": [
            {"aggregate": [{"op": "min", "field": "sy0", "as": "y0"}, {"op": "max", "field": "sy1", "as": "y1"}], "groupby": ["s"]},
            {"calculate": "(datum.y0 + datum.y1) / 2", "as": "ym"}
          ],
          "mark": {"type": "text", "align": "left", "baseline": "middle", "fontSize": 17, "font": "Liberation Sans", "color": "#111111", "clip": true},
          "encoding": {
            "x": {"datum": 615, "type": "quantitative"},
            "y": {"field": "ym", "type": "quantitative"},
            "text": {"field": "s"}
          }
        },
        {
          "transform": [
            {"aggregate": [{"op": "min", "field": "ty0", "as": "y0"}, {"op": "max", "field": "ty1", "as": "y1"}], "groupby": ["t"]},
            {"calculate": "(datum.y0 + datum.y1) / 2", "as": "ym"}
          ],
          "mark": {"type": "text", "align": "right", "baseline": "middle", "fontSize": 17, "font": "Liberation Sans", "color": "#111111", "clip": true},
          "encoding": {
            "x": {"datum": 1021, "type": "quantitative"},
            "y": {"field": "ym", "type": "quantitative"},
            "text": {"field": "t"}
          }
        }
      ]
    }
  ]
}
